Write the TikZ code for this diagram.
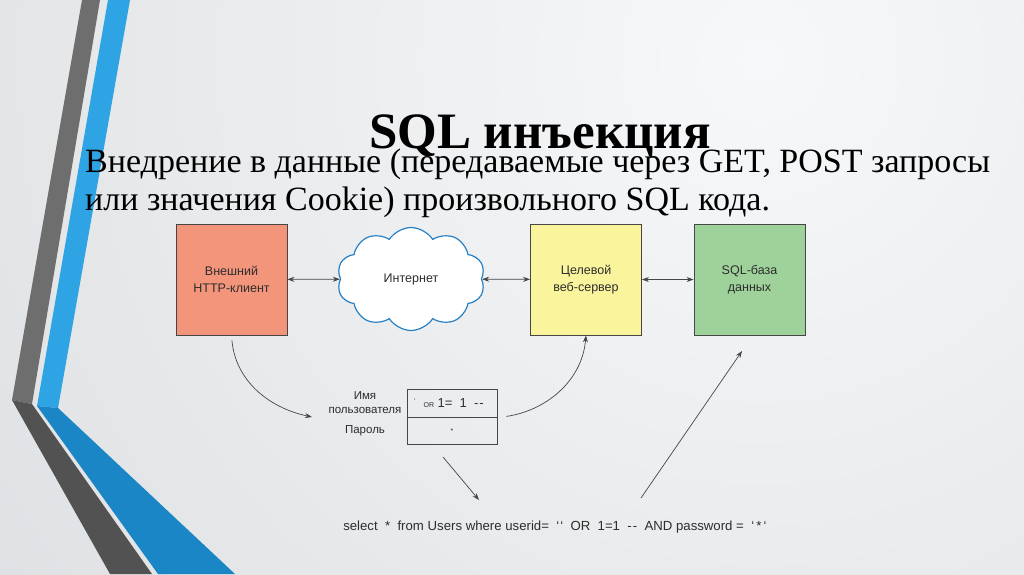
\documentclass[tikz,border=0pt]{standalone}
\usepackage{fontspec}
\setmainfont{Liberation Serif}
\setsansfont{Liberation Sans}
\usetikzlibrary{arrows.meta}
\usetikzlibrary{shapes.symbols}
\definecolor{bglight}{RGB}{247,248,249}
\definecolor{bgdark}{RGB}{192,196,200}
\definecolor{bandgray}{RGB}{110,110,110}
\definecolor{bandgraydark}{RGB}{82,82,82}
\definecolor{bandblue}{RGB}{46,164,228}
\definecolor{bandbluedark}{RGB}{26,134,198}
\definecolor{clientcol}{RGB}{243,149,123}
\definecolor{servercol}{RGB}{250,244,156}
\definecolor{dbcol}{RGB}{158,210,154}
\definecolor{cloudblue}{RGB}{40,128,196}
\definecolor{linegray}{RGB}{70,70,70}
\definecolor{textgray}{RGB}{45,45,45}

\begin{document}
\begin{tikzpicture}[x=1pt, y=-1pt,
  box/.style={draw=linegray, line width=0.8pt, minimum width=111pt, minimum height=111pt,
    align=center, text=textgray, font=\sffamily\fontsize{12.5}{17}\selectfont},
  cell/.style={draw=linegray, line width=0.8pt, minimum width=90pt, minimum height=27.5pt,
    inner sep=0pt, text=textgray, font=\sffamily\fontsize{13}{15}\selectfont},
  lbl/.style={align=center, text=textgray, font=\sffamily\fontsize{11.5}{14}\selectfont},
  arr/.style={draw=linegray, line width=0.7pt, -{Stealth[length=7pt,width=5pt]}},
  biarr/.style={draw=linegray, line width=0.7pt, {Stealth[length=7pt,width=5pt]}-{Stealth[length=7pt,width=5pt]}}]
\useasboundingbox (0,0) rectangle (1024,574);

\begin{scope}
  \clip (0,0) rectangle (1024,574);
  \fill[bgdark] (0,0) rectangle (1024,574);
  \shade[inner color=bglight, outer color=bgdark] (760,60) circle (2100);
  \fill[bandgray] (82,0) -- (100,0) -- (32,404) -- (12,400) -- cycle;
  \fill[bandgraydark] (12,400) -- (32,404) -- (152,574) -- (110,574) -- cycle;
  \fill[bandblue] (108,0) -- (130,0) -- (58,408) -- (37,406) -- cycle;
  \fill[bandbluedark] (37,406) -- (58,408) -- (235,574) -- (158,574) -- cycle;
\end{scope}

\node[anchor=base, font=\fontsize{51}{60}\selectfont\bfseries] (title) at (540,148) {SQL инъекция};
\node[anchor=base west, inner sep=0pt, font=\fontsize{34}{40}\selectfont] (line1) at (85,172)
  {Внедрение в данные (передаваемые через GET, POST запросы};
\node[anchor=base west, inner sep=0pt, font=\fontsize{34}{40}\selectfont] (line2) at (85,210)
  {или значения Cookie) произвольного SQL кода.};

\node[box, fill=clientcol] (client) at (231.5,279.5) {Внешний\\HTTP-клиент};
\node[cloud, cloud puffs=10, cloud puff arc=115, aspect=1.45, draw=cloudblue, fill=white,
  line width=1.2pt, minimum width=148pt, minimum height=103pt, text=textgray,
  font=\sffamily\fontsize{12.5}{17}\selectfont] (inet) at (411,279) {Интернет};
\node[box, fill=servercol] (server) at (586,279.5) {Целевой\\веб-сервер};
\node[box, fill=dbcol] (db) at (749.5,279.5) {SQL-база\\данных};

\draw[biarr] (client) -- (inet);
\draw[biarr] (inet) -- (server);
\draw[biarr] (server) -- (db);

\node[lbl] (userlbl) at (365,403) {Имя\\пользователя};
\node[lbl] (passlbl) at (365,431) {Пароль};
\node[cell] (user) at (452,403.5)
  {\makebox[90pt][l]{\hspace{7pt}\raisebox{4pt}{\scriptsize`}\hspace{8pt}{\scriptsize OR}\ 1=\ \ 1\ \ -\kern1pt-}};
\node[cell] (pass) at (452,431) {\scriptsize *};

\node[text=textgray, font=\sffamily\fontsize{13.2}{16}\selectfont] (query) at (555,527)
  {select\ \ *\ \ from Users where userid=\ \ `\kern1pt`\ \ OR\ \ 1=1\ \ -\kern1pt-\ \ AND password =\ \ `\,*\,`};

\coordinate (userin) at (312,417);
\coordinate (qfrom) at (443,457);
\coordinate (qto) at (479,500);
\coordinate (dbfrom) at (641,498);
\coordinate (dbin) at (742,351);

\draw[arr, shorten <=5pt] (client.south) to[out=-85, in=168] (userin);
\draw[arr, shorten <=9pt] (user.south east) to[out=8, in=-95] (server.south);
\draw[arr] (qfrom) -- (qto);
\draw[arr] (dbfrom) -- (dbin);

\end{tikzpicture}
\end{document}
